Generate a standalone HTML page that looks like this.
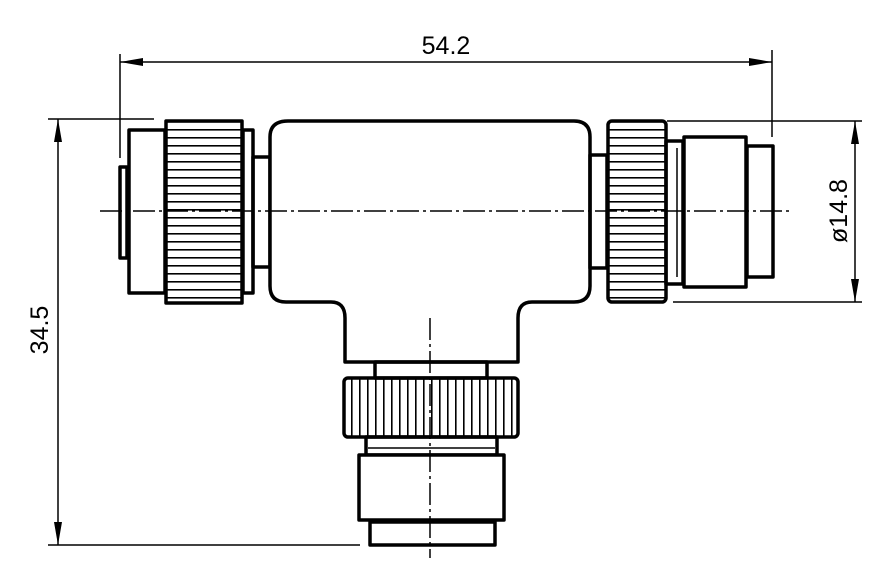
<!DOCTYPE html>
<html><head><meta charset="utf-8"><style>html,body{margin:0;padding:0;background:#fff}svg{display:block}</style></head>
<body>
<svg width="886" height="579" viewBox="0 0 886 579" xmlns="http://www.w3.org/2000/svg">
<defs>
<pattern id="kh" width="10" height="8" patternUnits="userSpaceOnUse" y="121"><rect width="10" height="1.6" fill="#000"/></pattern>
<pattern id="kv" width="8" height="10" patternUnits="userSpaceOnUse" x="343"><rect width="1.6" height="10" fill="#000"/></pattern>
</defs>
<g fill="none" stroke="#000" stroke-width="1.5">
<line x1="120" y1="54" x2="120" y2="158"/>
<line x1="772" y1="50" x2="772" y2="137"/>
<line x1="120" y1="62" x2="772" y2="62"/>
<line x1="48" y1="119" x2="154" y2="119"/>
<line x1="48" y1="545" x2="360" y2="545"/>
<line x1="58" y1="119" x2="58" y2="545"/>
<line x1="667" y1="121" x2="862" y2="121"/>
<line x1="673" y1="302" x2="862" y2="302"/>
<line x1="855" y1="121" x2="855" y2="302"/>
</g>
<g fill="#000">
<polygon points="120,62 143,58 143,66"/>
<polygon points="772,62 749,58 749,66"/>
<polygon points="58,119 54,142 62,142"/>
<polygon points="58,545 54,522 62,522"/>
<polygon points="855,121 851,144 859,144"/>
<polygon points="855,302 851,279 859,279"/>
</g>
<g font-family="Liberation Sans, sans-serif" font-size="25" fill="#000">
<text x="446" y="54" text-anchor="middle">54.2</text>
<text transform="translate(48,330) rotate(-90)" text-anchor="middle">34.5</text>
<text transform="translate(847,211) rotate(-90)" text-anchor="middle">ø14.8</text>
</g>
<g fill="none" stroke="#000" stroke-width="3.5" stroke-linejoin="round">
<rect x="120" y="167" width="7" height="91" fill="#fff"/>
<rect x="129" y="130" width="36" height="163" fill="#fff"/>
<rect x="166" y="121" width="76" height="182" fill="url(#kh)"/>
<rect x="243" y="130" width="10" height="163" fill="#fff"/>
<rect x="253" y="157" width="17" height="110"/>
<path d="M288,121 H574 Q590,121 590,137 V286 Q590,302 574,302 H532 Q518,302 518,318 V362 H345 V318 Q345,302 331,302 H286 Q270,302 270,286 V137 Q270,121 288,121 Z" fill="#fff"/>
<rect x="590" y="155" width="17" height="113"/>
<rect x="608" y="121" width="58" height="181" rx="4" fill="url(#kh)"/>
<rect x="666" y="141" width="17" height="143"/>
<rect x="684" y="137" width="62" height="150" fill="#fff"/>
<rect x="747" y="146" width="26" height="131" fill="#fff"/>
<rect x="375" y="362" width="112" height="16"/>
<rect x="344" y="378" width="174" height="59" rx="4" fill="url(#kv)"/>
<rect x="366" y="437" width="131" height="18"/>
<rect x="359" y="455" width="145" height="65" fill="#fff"/>
<rect x="370" y="522" width="125" height="23" fill="#fff"/>
</g>
<g stroke="#000" stroke-width="1.5">
<line x1="677" y1="148" x2="677" y2="277"/>
<line x1="368" y1="448" x2="495" y2="448"/>
<line x1="430" y1="318" x2="430" y2="558" stroke-dasharray="22,4,3,4"/>
<line x1="100" y1="211" x2="790" y2="211" stroke-dasharray="22,4,3,4"/>
</g>
</svg>
</body></html>
